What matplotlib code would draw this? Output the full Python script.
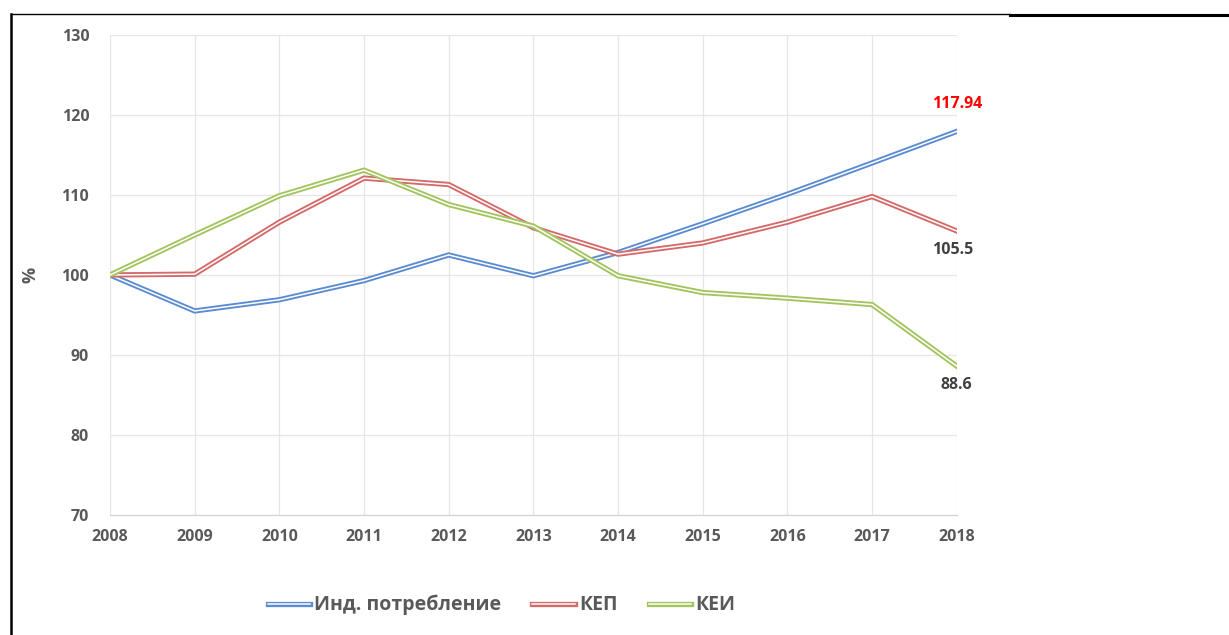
import matplotlib
matplotlib.use("Agg")
import matplotlib.pyplot as plt
import matplotlib.patheffects as pe
from matplotlib.lines import Line2D

years = [2008, 2009, 2010, 2011, 2012, 2013, 2014, 2015, 2016, 2017, 2018]
ind_consumption = [100.0, 95.5, 96.9, 99.3, 102.5, 99.9, 102.8, 106.4, 110.1, 114.0, 117.94]
kep = [100.0, 100.1, 106.6, 112.1, 111.3, 105.9, 102.6, 104.0, 106.6, 109.8, 105.5]
kei = [100.0, 105.0, 109.9, 113.1, 108.8, 106.1, 99.9, 97.8, 97.1, 96.3, 88.6]

series_names = ["Инд. потребление", "КЕП", "КЕИ"]
series_colors = ["#5b8bd0", "#d46a6a", "#a3c45e"]
y_ticks = [70, 80, 90, 100, 110, 120, 130]

text_gray = "#595959"
plt.rcParams["font.family"] = ["Open Sans", "DejaVu Sans"]
plt.rcParams["font.weight"] = "bold"

fig = plt.figure(figsize=(12.29, 6.35), dpi=100)
ax = fig.add_axes([0.0895, 0.189, 0.689, 0.756])

for vals, name, col in zip([ind_consumption, kep, kei], series_names, series_colors):
    # double line: wide coloured stroke under a thin white core
    ax.plot(years, vals, color="white", lw=1.1, label=name, zorder=3,
            solid_joinstyle="miter",
            path_effects=[pe.Stroke(linewidth=3.8, foreground=col), pe.Normal()])

ax.set_xlim(years[0], years[-1])
ax.set_ylim(y_ticks[0], y_ticks[-1])
ax.set_xticks(years)
ax.set_yticks(y_ticks)
ax.grid(True, color="#e6e6e6", lw=0.9)
ax.set_axisbelow(True)
for side in ["top", "right", "left"]:
    ax.spines[side].set_visible(False)
ax.spines["bottom"].set_color("#d0d0d0")
ax.tick_params(length=0, labelsize=11.5, labelcolor=text_gray)
ax.tick_params(axis="x", pad=10)
ax.tick_params(axis="y", pad=15)
for lbl in ax.get_xticklabels() + ax.get_yticklabels():
    lbl.set_fontweight("bold")
ax.set_ylabel("%", fontsize=13, color=text_gray, fontweight="bold", labelpad=16)

# end-of-line value labels
ax.annotate(f"{ind_consumption[-1]:.2f}", (years[-1], ind_consumption[-1]),
            xytext=(0, 14), textcoords="offset points", ha="center", va="bottom",
            color="#ff0000", fontsize=11.5, fontweight="bold")
ax.annotate(f"{kep[-1]}", (years[-1], kep[-1]),
            xytext=(-3, -8), textcoords="offset points", ha="center", va="top",
            color="#404040", fontsize=11.5, fontweight="bold")
ax.annotate(f"{kei[-1]}", (years[-1], kei[-1]),
            xytext=(0, -8), textcoords="offset points", ha="center", va="top",
            color="#404040", fontsize=11.5, fontweight="bold")

leg = fig.legend(loc="center", bbox_to_anchor=(0.408, 0.047),
                 ncol=3, frameon=False, fontsize=14, handlelength=2.2,
                 columnspacing=1.6, handletextpad=0.2)
for t in leg.get_texts():
    t.set_color(text_gray)
    t.set_fontweight("bold")

# page frame lines
fig.add_artist(Line2D([0.009, 0.822], [0.978, 0.978], color="black", lw=1.0))
fig.add_artist(Line2D([0.822, 1.0], [0.976, 0.976], color="black", lw=2.2))
fig.add_artist(Line2D([0.009, 0.009], [0.0, 0.978], color="black", lw=1.8))

fig.savefig("out.png", dpi=100)
